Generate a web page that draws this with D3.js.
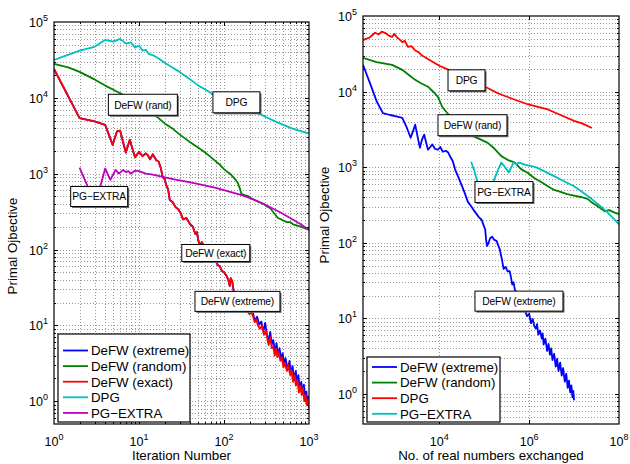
<!DOCTYPE html>
<html>
<head>
<meta charset="utf-8">
<script src="https://cdn.jsdelivr.net/npm/d3@7"></script>
<style>
  body { margin: 0; background: #fff; }
  svg { font-family: "Liberation Sans", Arial, sans-serif; }
</style>
</head>
<body>
<svg id="chart" width="630" height="464"></svg>
<script>
// ---- left panel: objective vs iteration number ----
const iterExtreme = [[1,24000],[2,5400],[3,4900],[4,4400],[4.9,2400],[5.5,3600],[6,3700],[6.5,2600],[7,1900],[7.8,2800],[8.5,2000],[9,1640],[10,1950],[11,1700],[12,1850],[12.7,1750],[13.5,1550],[14.5,1800],[16,1500],[17,1450],[18,1200],[19,900],[20,850],[21,700],[22,620],[23,450],[25,420],[27,360],[29,340],[31,300],[33,250],[36,260],[40,215],[43,200],[46,160],[48,170],[50,130],[52,115],[55,125],[58,110],[62,100],[66,90],[70,95],[74,80],[80,70],[85,62],[89,60],[95,52],[100,50],[107,45],[112,40],[117,33],[120,42],[125,38],[130,28],[140,26],[150,24],[160,20],[170,18],[180,16.5],[190,15],[200,14.5],[215,16],[230,11.5],[245,13],[260,10.2],[275,11.2],[290,8.2],[305,10.8],[320,7.6],[335,6.2],[350,8.2],[365,5.6],[380,6.4],[400,4.4],[415,5.8],[430,4.0],[450,5.0],[470,3.5],[490,4.3],[510,3.0],[530,3.7],[560,2.6],[590,3.4],[610,2.3],[640,2.9],[670,1.9],[700,2.5],[720,1.7],[750,2.2],[780,1.4],[810,1.8],[840,1.25],[870,1.65],[900,1.05],[930,1.35],[960,0.9],[990,1.15],[1000,0.85]];
const iterRandom = [[1,28000],[1.5,25000],[2,22000],[3,17500],[4,14500],[5,12800],[6,11500],[7,10500],[8,9800],[10,8500],[12,7200],[14,6300],[17,5400],[20,4600],[25,3900],[30,3300],[35,2900],[40,2600],[50,2200],[60,1900],[70,1650],[80,1450],[90,1300],[100,1150],[110,1050],[120,980],[135,850],[145,760],[155,620],[160,540],[175,520],[190,510],[210,470],[240,440],[260,420],[290,400],[320,370],[350,350],[380,310],[400,290],[430,260],[470,250],[500,240],[550,230],[600,230],[650,215],[700,210],[800,200],[900,190],[1000,185]];
const iterExact = [[1,24000],[2,5400],[3,4900],[4,4400],[4.9,2400],[5.5,3600],[6,3700],[6.5,2600],[7,1900],[7.8,2800],[8.5,2000],[9,1640],[10,1950],[11,1700],[12,1850],[12.7,1750],[13.5,1550],[14.5,1800],[16,1500],[17,1450],[18,1200],[19,900],[20,850],[21,700],[22,620],[23,450],[25,420],[27,360],[29,340],[31,300],[33,250],[36,260],[40,215],[43,200],[46,160],[48,170],[50,130],[52,115],[55,125],[58,110],[62,100],[66,90],[70,95],[74,80],[80,70],[85,62],[89,60],[95,52],[100,50],[107,45],[112,40],[117,33],[120,42],[125,38],[130,28],[140,26],[150,24],[160,20],[170,18],[180,16],[190,15.5],[200,14],[210,15],[220,13],[230,11],[240,12],[250,10],[265,9],[280,10],[295,7.5],[310,8.5],[320,7],[335,5.5],[350,7],[365,5],[380,5.3],[395,4],[410,5],[425,3.8],[440,4.5],[460,3.4],[480,3.8],[500,2.8],[520,3.2],[550,2.5],[570,3],[600,2.2],[620,2.6],[650,1.8],[680,2.2],[700,1.6],[730,1.9],[760,1.3],[790,1.6],[820,1.2],[850,1.5],[880,1.0],[910,1.2],[940,0.9],[970,1.05],[1000,0.8]];
const iterDPG = [[1,31600],[2,42000],[3,47000],[4,58000],[5,55000],[6,60000],[7,52000],[8,54000],[9,46000],[10,49000],[11,42000],[12,43000],[13,38000],[15,36000],[17,33000],[20,29000],[25,25000],[30,22000],[40,17500],[50,14500],[63,12500],[80,10500],[100,9500],[130,8400],[160,7600],[200,6900],[265,6100],[320,5500],[400,4900],[500,4400],[630,3950],[800,3650],[1000,3400]];
const iterPGExtra = [[2,1200],[2.5,670],[2.8,480],[3.2,500],[3.5,670],[4,1170],[4.6,830],[5.3,1120],[5.8,1000],[6.5,1120],[7,1050],[7.5,1080],[8,1000],[9,1100],[10,1080],[12,1000],[14,980],[18,920],[25,850],[35,790],[52,720],[80,650],[110,590],[154,530],[200,480],[280,410],[350,360],[457,310],[600,260],[800,215],[1000,180]];

// ---- right panel: objective vs real numbers exchanged ----
const commExtreme = [[200,22600],[300,12000],[400,7500],[555,5200],[800,4900],[1100,4700],[1500,4500],[1900,3300],[2300,2450],[2600,3000],[2900,3650],[3300,2500],[3700,1800],[4100,2300],[4600,2700],[5100,2100],[5600,1700],[6300,1850],[7000,2000],[8000,1750],[9300,1700],[10500,1850],[12000,1600],[14000,1650],[15800,1560],[18000,1330],[20000,1200],[22500,930],[27000,720],[32000,560],[37000,450],[43000,350],[52000,300],[61000,260],[75000,220],[88000,200],[97000,170],[105000,150],[110000,110],[115000,90],[125000,100],[135000,115],[150000,120],[165000,110],[190000,105],[200000,95],[220000,83],[245000,62],[270000,45],[300000,48],[330000,42],[370000,42],[400000,33],[420000,28],[450000,30],[480000,24],[550000,21],[650000,17],[750000,14],[900000,10.7],[1e6,11.5],[1.1e6,8.6],[1.2e6,9.8],[1.3e6,7.9],[1.4e6,7.3],[1.5e6,8.4],[1.6e6,6.1],[1.75e6,6.9],[1.9e6,5.4],[2e6,6.3],[2.1e6,4.5],[2.3e6,5.4],[2.5e6,3.7],[2.7e6,4.6],[2.9e6,3.3],[3.1e6,4.0],[3.3e6,2.8],[3.6e6,3.4],[3.9e6,2.3],[4.2e6,2.9],[4.5e6,2.0],[4.9e6,2.6],[5.3e6,1.75],[5.7e6,2.2],[6.2e6,1.45],[6.7e6,1.85],[7.2e6,1.2],[7.7e6,1.5],[8.2e6,1.05],[8.7e6,1.3],[9.2e6,0.9],[9.6e6,1.1],[1e7,0.82]];
const commRandom = [[200,27900],[400,24500],[890,22600],[1500,19400],[2000,17000],[2900,14300],[4000,12800],[5600,11600],[7500,9800],[9300,8500],[11600,6300],[15000,5200],[20000,4400],[30000,3500],[40000,3000],[54000,2600],[80000,2350],[120000,2100],[170000,1750],[240000,1400],[330000,1250],[480000,1150],[650000,950],[900000,850],[1.3e6,720],[1.9e6,630],[2.6e6,560],[3.6e6,500],[5e6,470],[7e6,440],[1e7,420],[1.5e7,400],[2e7,380],[2.5e7,340],[3.5e7,300],[4.8e7,260],[6e7,270],[8e7,250],[1e8,240]];
const commDPG = [[200,48000],[280,52000],[370,60000],[450,57000],[520,62000],[620,60000],[750,55000],[890,53000],[1000,58000],[1150,52000],[1300,49000],[1500,45000],[1700,47000],[2000,39000],[2400,40000],[2900,35000],[3500,33000],[4100,30000],[5000,28000],[6900,25000],[10000,22000],[15800,19500],[25000,17000],[40000,14500],[63000,13000],[105000,11600],[200000,9500],[480000,7800],[1e6,6700],[2.6e6,5800],[5e6,4900],[1e7,4100],[1.5e7,3800],[2.5e7,3300]];
const commPGExtra = [[51000,1180],[60000,900],[70000,650],[80000,500],[95000,430],[120000,480],[160000,650],[200000,900],[240000,1150],[290000,1000],[350000,850],[400000,1000],[450000,1150],[520000,1100],[600000,1150],[800000,1080],[1.4e6,1000],[2.2e6,880],[3.6e6,760],[6e6,650],[1e7,560],[1.6e7,460],[2.2e7,400],[2.9e7,350],[4e7,300],[5.6e7,250],[7.5e7,210],[1e8,175]];

const leftLegend = ['DeFW (extreme)', 'DeFW (random)', 'DeFW (exact)', 'DPG', 'PG\u2212EXTRA'];
const rightLegend = ['DeFW (extreme)', 'DeFW (random)', 'DPG', 'PG\u2212EXTRA'];

const C = { blue: '#0000ff', green: '#008000', red: '#ff0000', cyan: '#00bfbf', magenta: '#bf00bf' };

const svg = d3.select('#chart');

function powLabel(sel, k) {
  sel.append('tspan').text('10');
  sel.append('tspan').attr('dy', -6).attr('font-size', 9).text(k);
}

function drawPanel(p) {
  const x = d3.scaleLog().domain(p.xDomain).range([p.left, p.right]);
  const y = d3.scaleLog().domain(p.yDomain).range([p.bottom, p.top]);
  const g = svg.append('g');

  const isMajor = v => Math.abs(Math.log10(v) - Math.round(Math.log10(v))) < 1e-9;
  const xAll = x.ticks().filter(v => v > p.xDomain[0] && v < p.xDomain[1]);
  // right panel only marks every second decade
  const xTicks = p.minorX ? xAll : xAll.filter(v => isMajor(v) && Math.round(Math.log10(v)) % 2 === 0);
  const yTicks = y.ticks().filter(v => v > p.yDomain[0] && v < p.yDomain[1]);

  // dotted grid
  g.append('g').selectAll('line').data(xTicks).enter().append('line')
    .attr('x1', d => Math.round(x(d)) + 0.5).attr('x2', d => Math.round(x(d)) + 0.5)
    .attr('y1', p.top).attr('y2', p.bottom)
    .attr('stroke', '#999').attr('stroke-dasharray', '1,2');
  g.append('g').selectAll('line').data(yTicks).enter().append('line')
    .attr('y1', d => Math.round(y(d)) + 0.5).attr('y2', d => Math.round(y(d)) + 0.5)
    .attr('x1', p.left).attr('x2', p.right)
    .attr('stroke', '#999').attr('stroke-dasharray', '1,2');

  // inward ticks on all four sides
  const tk = g.append('g').attr('stroke', '#000').attr('stroke-width', 1);
  xTicks.forEach(d => {
    const len = isMajor(d) ? 4 : 2;
    const px = Math.round(x(d)) + 0.5;
    tk.append('line').attr('x1', px).attr('x2', px).attr('y1', p.bottom).attr('y2', p.bottom - len);
    tk.append('line').attr('x1', px).attr('x2', px).attr('y1', p.top).attr('y2', p.top + len);
  });
  yTicks.forEach(d => {
    const len = isMajor(d) ? 4 : 2;
    const py = Math.round(y(d)) + 0.5;
    tk.append('line').attr('y1', py).attr('y2', py).attr('x1', p.left).attr('x2', p.left + len);
    tk.append('line').attr('y1', py).attr('y2', py).attr('x1', p.right).attr('x2', p.right - len);
  });

  // series
  const clipId = 'clip' + p.id;
  svg.append('clipPath').attr('id', clipId).append('rect')
    .attr('x', p.left).attr('y', p.top).attr('width', p.right - p.left).attr('height', p.bottom - p.top);
  const line = d3.line().x(d => x(d[0])).y(d => y(d[1]));
  g.append('g').attr('clip-path', `url(#${clipId})`)
    .selectAll('path').data(p.series).enter().append('path')
    .attr('d', s => line(s.data))
    .attr('fill', 'none').attr('stroke', s => s.color)
    .attr('stroke-width', 1.8).attr('stroke-linejoin', 'round');

  // frame
  g.append('rect').attr('x', p.left).attr('y', p.top)
    .attr('width', p.right - p.left).attr('height', p.bottom - p.top)
    .attr('fill', 'none').attr('stroke', '#000').attr('stroke-width', 1.2);

  // tick labels
  const majX = [...(p.labelXMin ? [p.xDomain[0]] : []), ...xTicks.filter(isMajor), p.xDomain[1]];
  majX.forEach(d => {
    g.append('text').attr('x', x(d)).attr('y', p.bottom + 22)
      .attr('text-anchor', 'middle').attr('font-size', 12.5)
      .call(powLabel, Math.round(Math.log10(d)));
  });
  const majY = [...yTicks.filter(isMajor), p.yDomain[1]];
  majY.forEach(d => {
    g.append('text').attr('x', p.left - 6).attr('y', y(d) + 5)
      .attr('text-anchor', 'end').attr('font-size', 12.5)
      .call(powLabel, Math.round(Math.log10(d)));
  });

  // axis titles
  g.append('text').attr('x', (p.left + p.right) / 2).attr('y', 460)
    .attr('text-anchor', 'middle').attr('font-size', 13.3).text(p.xLabel);
  g.append('text').attr('transform', `translate(${p.yLabelX},${p.yLabelY}) rotate(-90)`)
    .attr('text-anchor', 'middle').attr('font-size', 13.3).text('Primal Ojbective');

  // annotation boxes
  p.notes.forEach(n => {
    const cx = x(n.at[0]), cy = y(n.at[1]);
    const a = g.append('g');
    a.append('rect').attr('x', cx - n.w / 2 + 1.5).attr('y', cy - n.h / 2 + 1.5)
      .attr('width', n.w).attr('height', n.h).attr('fill', '#666');
    a.append('rect').attr('x', cx - n.w / 2).attr('y', cy - n.h / 2)
      .attr('width', n.w).attr('height', n.h).attr('fill', '#fff')
      .attr('stroke', '#000').attr('stroke-width', 1);
    a.append('text').attr('x', cx).attr('y', cy + 3.8)
      .attr('text-anchor', 'middle').attr('font-size', 10.3)
      .attr('letter-spacing', -0.2).text(n.text);
  });

  // legend
  const L = p.legend;
  const lg = g.append('g');
  lg.append('rect').attr('x', L.x).attr('y', L.y).attr('width', L.w).attr('height', L.h)
    .attr('fill', '#fff').attr('stroke', '#000').attr('stroke-width', 1.2);
  p.series.forEach((s, i) => {
    const ry = L.row0 + i * 15.6;
    lg.append('line').attr('x1', L.x + 5).attr('x2', L.x + 30).attr('y1', ry).attr('y2', ry)
      .attr('stroke', s.color).attr('stroke-width', 1.8);
    lg.append('text').attr('x', L.x + 33).attr('y', ry + 4.8)
      .attr('font-size', 13.3).text(s.name);
  });
}

drawPanel({
  id: 'L', left: 54, right: 309, top: 22, bottom: 424,
  xDomain: [1, 1000], yDomain: [0.5, 1e5], minorX: true, labelXMin: true,
  xLabel: 'Iteration Number', yLabelX: 17, yLabelY: 246,
  series: [
    { data: iterExtreme, color: C.blue, name: leftLegend[0] },
    { data: iterRandom, color: C.green, name: leftLegend[1] },
    { data: iterExact, color: C.red, name: leftLegend[2] },
    { data: iterDPG, color: C.cyan, name: leftLegend[3] },
    { data: iterPGExtra, color: C.magenta, name: leftLegend[4] }
  ],
  notes: [
    { text: 'DeFW (rand)', at: [11.1, 8100], w: 69, h: 21 },
    { text: 'DPG', at: [140, 8730], w: 47, h: 21 },
    { text: 'PG\u2212EXTRA', at: [3.4, 500], w: 57, h: 20 },
    { text: 'DeFW (exact)', at: [80, 90], w: 68, h: 17 },
    { text: 'DeFW (extreme)', at: [144, 20.7], w: 85, h: 20 }
  ],
  legend: { x: 58, y: 334, w: 132, h: 88, row0: 350.5 }
});

drawPanel({
  id: 'R', left: 363, right: 619, top: 16, bottom: 424,
  xDomain: [200, 1e8], yDomain: [0.4, 1e5], minorX: false, labelXMin: false,
  xLabel: 'No. of real numbers exchanged', yLabelX: 329, yLabelY: 215,
  series: [
    { data: commExtreme, color: C.blue, name: rightLegend[0] },
    { data: commRandom, color: C.green, name: rightLegend[1] },
    { data: commDPG, color: C.red, name: rightLegend[2] },
    { data: commPGExtra, color: C.cyan, name: rightLegend[3] }
  ],
  notes: [
    { text: 'DPG', at: [40300, 14100], w: 37, h: 21 },
    { text: 'DeFW (rand)', at: [54700, 3590], w: 69, h: 21 },
    { text: 'PG\u2212EXTRA', at: [275000, 469], w: 58, h: 21 },
    { text: 'DeFW (extreme)', at: [593000, 16.9], w: 88, h: 20 }
  ],
  legend: { x: 367, y: 357, w: 133, h: 65, row0: 367 }
});
</script>
</body>
</html>
